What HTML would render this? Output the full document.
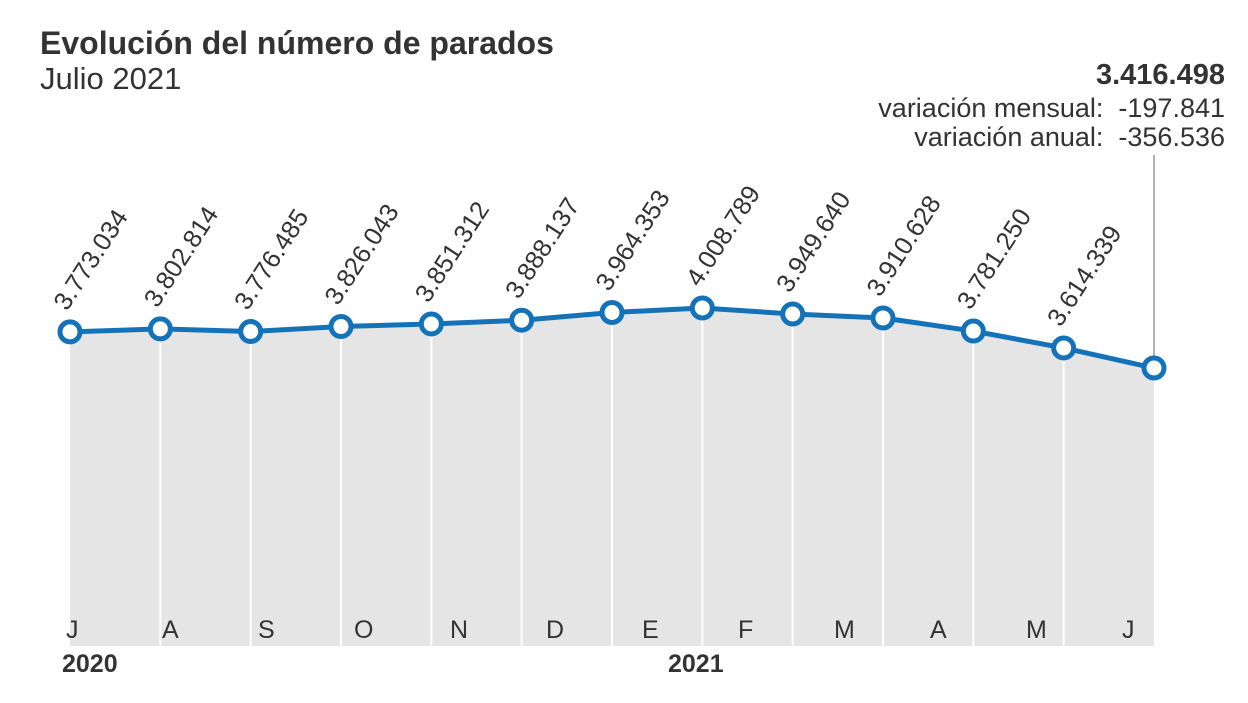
<!DOCTYPE html>
<html><head><meta charset="utf-8"><style>
body{margin:0;background:#fff;width:1248px;height:698px;overflow:hidden;font-family:"Liberation Sans",sans-serif}
</style></head><body>
<svg width="1248" height="698" id="c">
<text x="40" y="54" font-size="32" font-weight="bold" fill="#333">Evolución del número de parados</text>
<text x="40" y="89" font-size="31" fill="#333">Julio 2021</text>
<text x="1225" y="84" font-size="29" font-weight="bold" fill="#333" text-anchor="end">3.416.498</text>
<text x="1225" y="117" font-size="27" fill="#333" text-anchor="end" style="white-space:pre">variación mensual:  -197.841</text>
<text x="1225" y="146" font-size="27" fill="#333" text-anchor="end" style="white-space:pre">variación anual:  -356.536</text>
<g id="plot"></g>
<text x="62" y="672" font-size="25" font-weight="bold" fill="#333">2020</text>
<text x="668" y="672" font-size="25" font-weight="bold" fill="#333">2021</text>
</svg>
<script>
const months=["J","A","S","O","N","D","E","F","M","A","M","J"];
const values=[3773034,3802814,3776485,3826043,3851312,3888137,3964353,4008789,3949640,3910628,3781250,3614339,3416498];
const labels=["3.773.034","3.802.814","3.776.485","3.826.043","3.851.312","3.888.137","3.964.353","4.008.789","3.949.640","3.910.628","3.781.250","3.614.339"];
const NS="http://www.w3.org/2000/svg";
const g=document.getElementById('plot');
const x=i=>70+i*(1154-70)/12;
const y=v=>308+(4008789-v)*(60/592291);
const bottom=646;
function el(t,a){const e=document.createElementNS(NS,t);for(const k in a)e.setAttribute(k,a[k]);g.appendChild(e);return e;}
let d="M"+x(0)+","+bottom;
values.forEach((v,i)=>d+=" L"+x(i)+","+y(v));
d+=" L"+x(values.length-1)+","+bottom+"Z";
const area=el('path',{d:d,fill:'#e5e5e5'});


values.forEach((v,i)=>{if(i>0&&i<values.length-1){const l=el('line',{x1:x(i),x2:x(i),y1:y(v),y2:bottom,stroke:'#fff','stroke-width':2});

}});
const lead=el('line',{x1:x(12),x2:x(12),y1:155,y2:y(values[12]),stroke:'#999','stroke-width':1.5});


const line=el('polyline',{points:values.map((v,i)=>x(i)+","+y(v)).join(" "),fill:'none',stroke:'#1473b8','stroke-width':5,'stroke-linejoin':'round'});


values.forEach((v,i)=>{const c=el('circle',{cx:x(i),cy:y(v),r:10,fill:'#fff',stroke:'#1473b8','stroke-width':5});

});
labels.forEach((s,i)=>{const px=x(i)-3,py=y(values[i])-20;
const t=el('text',{x:px,y:py,'font-size':25.5,fill:'#333',transform:`rotate(-57 ${px} ${py})`});
t.textContent=s;

});
months.forEach((m,i)=>{const t=el('text',{x:66+i*96,y:638,'font-size':25,fill:'#333'});
t.textContent=m;

});
</script>
</body></html>
